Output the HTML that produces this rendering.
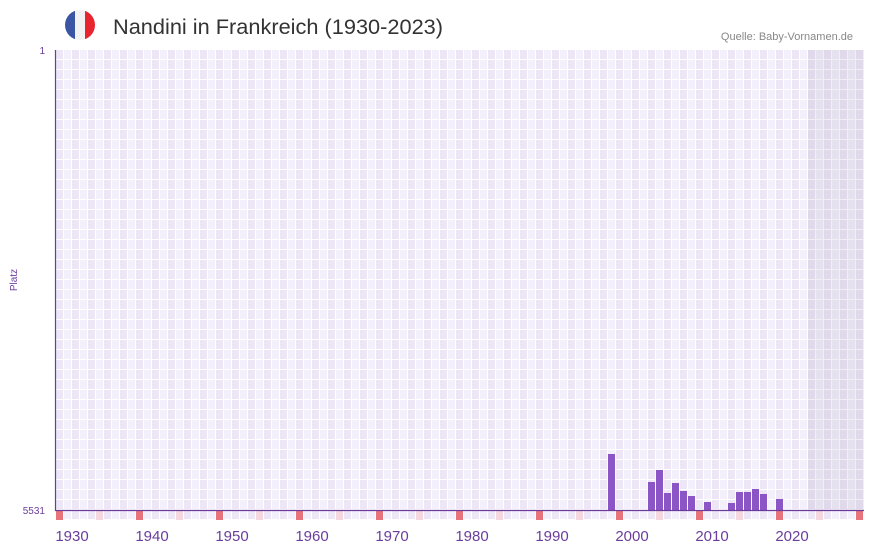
<!DOCTYPE html>
<html><head><meta charset="utf-8"><style>
body{margin:0;background:#fff;width:873px;height:552px;overflow:hidden;font-family:"Liberation Sans",sans-serif}
</style></head><body>
<svg width="873" height="552" xmlns="http://www.w3.org/2000/svg">
<defs>
<pattern id="g" x="56" y="50" width="16" height="10" patternUnits="userSpaceOnUse">
<rect width="16" height="10" fill="#fff"/>
<rect x="0" y="0" width="7" height="9" fill="#ece6f7"/>
<rect x="8" y="0" width="7" height="9" fill="#f3effb"/>
</pattern>
<clipPath id="fl"><circle cx="80" cy="25" r="15"/></clipPath>
</defs>
<g clip-path="url(#fl)">
<rect x="65" y="10" width="10" height="30" fill="#3a55a4"/>
<rect x="75" y="10" width="10" height="30" fill="#f2f2f2"/>
<rect x="85" y="10" width="10" height="30" fill="#e8242f"/>
</g>
<text x="113" y="34" font-size="21" fill="#333" textLength="330" lengthAdjust="spacingAndGlyphs">Nandini in Frankreich (1930-2023)</text>
<text x="853" y="40" font-size="11" fill="#888" text-anchor="end">Quelle: Baby-Vornamen.de</text>
<rect x="56" y="50" width="808" height="460" fill="url(#g)"/>
<rect x="808" y="50" width="56" height="460" fill="#8a7a9a" opacity="0.12"/>
<rect x="56" y="511" width="808" height="9" fill="url(#g)"/>
<g fill="#e8737a">
<rect x="56" y="511" width="7" height="9"/><rect x="136" y="511" width="7" height="9"/><rect x="216" y="511" width="7" height="9"/><rect x="296" y="511" width="7" height="9"/><rect x="376" y="511" width="7" height="9"/><rect x="456" y="511" width="7" height="9"/><rect x="536" y="511" width="7" height="9"/><rect x="616" y="511" width="7" height="9"/><rect x="696" y="511" width="7" height="9"/><rect x="776" y="511" width="7" height="9"/><rect x="856" y="511" width="7" height="9"/>
</g>
<g fill="#f5d7df">
<rect x="96" y="511" width="7" height="9"/><rect x="176" y="511" width="7" height="9"/><rect x="256" y="511" width="7" height="9"/><rect x="336" y="511" width="7" height="9"/><rect x="416" y="511" width="7" height="9"/><rect x="496" y="511" width="7" height="9"/><rect x="576" y="511" width="7" height="9"/><rect x="656" y="511" width="7" height="9"/><rect x="736" y="511" width="7" height="9"/><rect x="816" y="511" width="7" height="9"/>
</g>
<g fill="#8c55c6">
<rect x="608" y="454" width="7" height="56"/>
<rect x="648" y="482" width="7" height="28"/>
<rect x="656" y="470" width="7" height="40"/>
<rect x="664" y="493" width="7" height="17"/>
<rect x="672" y="483" width="7" height="27"/>
<rect x="680" y="491" width="7" height="19"/>
<rect x="688" y="496" width="7" height="14"/>
<rect x="704" y="502" width="7" height="8"/>
<rect x="728" y="503" width="7" height="7"/>
<rect x="736" y="492" width="7" height="18"/>
<rect x="744" y="492" width="7" height="18"/>
<rect x="752" y="489" width="7" height="21"/>
<rect x="760" y="494" width="7" height="16"/>
<rect x="776" y="499" width="7" height="11"/>
</g>
<line x1="55.5" y1="50" x2="55.5" y2="511" stroke="#6a3d9a" stroke-width="1.2"/>
<line x1="55" y1="510.5" x2="864" y2="510.5" stroke="#6a3d9a" stroke-width="1.2"/>
<text x="45" y="54" font-size="10" fill="#6a3d9a" text-anchor="end">1</text>
<text x="45" y="514" font-size="10" fill="#6a3d9a" text-anchor="end">5531</text>
<text transform="translate(17,280) rotate(-90)" font-size="10" fill="#6a3d9a" text-anchor="middle">Platz</text>
<g font-size="15" fill="#6a3d9a" text-anchor="middle">
<text x="72" y="541">1930</text><text x="152" y="541">1940</text><text x="232" y="541">1950</text><text x="312" y="541">1960</text><text x="392" y="541">1970</text><text x="472" y="541">1980</text><text x="552" y="541">1990</text><text x="632" y="541">2000</text><text x="712" y="541">2010</text><text x="792" y="541">2020</text>
</g>
</svg>
</body></html>
